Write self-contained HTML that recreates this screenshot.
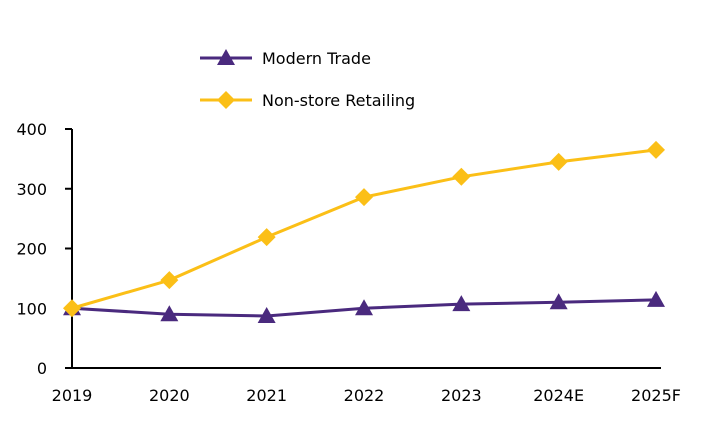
<!DOCTYPE html>
<html><head><meta charset="utf-8"><style>
body{margin:0;background:#fff;}
svg text{font-family:"DejaVu Sans","Liberation Sans",sans-serif;font-size:16px;fill:#000;}
</style></head><body>
<svg width="721" height="430" id="c">
<g id="axes"></g><g id="series"></g>
<g>
<g>
<line x1="200" y1="58" x2="252" y2="58" stroke="#4a2a7e" stroke-width="3"/>
<polygon points="226,49 235,65 217,65" fill="#4a2a7e"/>
<text x="262" y="64">Modern Trade</text></g>
<g>
<line x1="200" y1="100" x2="252" y2="100" stroke="#fbbf17" stroke-width="3"/>
<polygon points="226,91 235,100 226,109 217,100" fill="#fbbf17"/>
<text x="262" y="106">Non-store Retailing</text></g>
</g>
</svg>
<script>
const categories=["2019","2020","2021","2022","2023","2024E","2025F"];
const modernTrade=[100,90,87,100,107,110,114];
const nonStore=[100,147,219,286,320,345,365];
const yTicks=[0,100,200,300,400];
const NS="http://www.w3.org/2000/svg";
const x0=72,x1=656,yb=368,yt=129;
const xs=i=>x0+i*(x1-x0)/(categories.length-1);
const ys=v=>yb-(v/400)*(yb-yt);
function mk(t,a,p){const e=document.createElementNS(NS,t);for(const k in a)e.setAttribute(k,a[k]);p.appendChild(e);return e;}
const ax=document.getElementById('axes'),se=document.getElementById('series');
let l=mk('line',{x1:x0,y1:yt,x2:x0,y2:yb,stroke:'#000','stroke-width':2},ax);


l=mk('line',{x1:65,y1:yb,x2:x1+5,y2:yb,stroke:'#000','stroke-width':2},ax);


yTicks.forEach(v=>{
 const t=mk('line',{x1:65,y1:ys(v),x2:x0,y2:ys(v),stroke:'#000','stroke-width':2},ax);
 
 
 const tx=mk('text',{x:47,y:ys(v)+6,'text-anchor':'end'},ax);tx.textContent=v;
 
 
});
categories.forEach((c,i)=>{
 const tx=mk('text',{x:xs(i),y:401,'text-anchor':'middle'},ax);tx.textContent=c;
 
 
});
function series(vals,col,shape,name){
 const p=mk('polyline',{points:vals.map((v,i)=>xs(i)+','+ys(v)).join(' '),fill:'none',stroke:col,'stroke-width':3},se);
 
 
 vals.forEach((v,i)=>{
  const x=xs(i),y=ys(v);
  const pts=shape==='tri'?`${x},${y-9} ${x+9},${y+7} ${x-9},${y+7}`:`${x},${y-9} ${x+9},${y} ${x},${y+9} ${x-9},${y}`;
  const m=mk('polygon',{points:pts,fill:col},se);
  
  
 });
}
series(modernTrade,'#4a2a7e','tri','modern-trade');
series(nonStore,'#fbbf17','dia','non-store-retailing');
</script>
</body></html>
